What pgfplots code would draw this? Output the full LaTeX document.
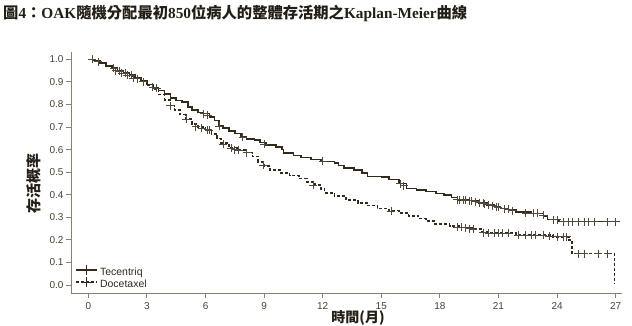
\documentclass[border=0pt]{standalone}
\usepackage{pgfplots}
\pgfplotsset{compat=1.18}
\usepackage{fontspec}
\setmainfont{Liberation Serif}
\setsansfont{Liberation Sans}
\newfontfamily\cjk{Noto Sans CJK TC}
\definecolor{curve}{RGB}{52,42,28}
\definecolor{axcol}{RGB}{140,128,110}
\definecolor{lblcol}{RGB}{72,64,52}
\definecolor{titlecol}{RGB}{35,30,22}

\pgfplotstableread{
x y
0 1.000
0.3 0.995
0.6 0.985
0.9 0.972
1.2 0.962
1.5 0.950
1.8 0.940
2.1 0.930
2.4 0.918
2.7 0.905
3.0 0.888
3.3 0.876
3.6 0.862
3.9 0.846
4.2 0.830
4.5 0.818
4.8 0.810
5.1 0.790
5.3 0.775
5.6 0.765
5.9 0.760
6.2 0.745
6.45 0.730
6.7 0.705
6.9 0.695
7.2 0.684
7.5 0.672
7.8 0.655
8.1 0.648
8.5 0.642
8.8 0.632
9.1 0.622
9.6 0.612
9.9 0.600
10.0 0.585
10.5 0.575
10.9 0.565
11.4 0.556
11.9 0.548
12.6 0.542
12.8 0.530
13.1 0.518
13.6 0.510
14.0 0.497
14.3 0.482
15.0 0.478
15.4 0.468
15.9 0.450
16.3 0.428
16.8 0.422
17.3 0.415
17.8 0.405
18.2 0.398
18.6 0.388
18.9 0.378
19.5 0.374
20.0 0.365
20.4 0.356
20.8 0.348
21.1 0.340
21.5 0.335
21.9 0.325
22.7 0.318
23.3 0.305
23.5 0.290
24.1 0.281
27.2 0.281
}\tec

\pgfplotstableread{
x y
0 1.000
0.3 0.995
0.6 0.985
0.9 0.972
1.2 0.962
1.5 0.950
1.8 0.940
2.1 0.925
2.4 0.915
2.7 0.905
3.0 0.885
3.3 0.870
3.6 0.845
3.9 0.820
4.2 0.795
4.4 0.775
4.7 0.755
5.0 0.735
5.3 0.715
5.6 0.700
6.0 0.688
6.3 0.670
6.6 0.650
6.8 0.630
7.2 0.610
7.6 0.598
8.1 0.587
8.4 0.570
8.7 0.545
9.0 0.528
9.3 0.510
9.8 0.497
10.3 0.485
10.8 0.473
11.2 0.458
11.6 0.443
11.9 0.425
12.1 0.408
12.6 0.395
13.2 0.378
13.8 0.365
14.3 0.352
14.8 0.340
15.4 0.330
15.9 0.320
16.4 0.306
16.9 0.295
17.3 0.285
17.7 0.272
18.5 0.263
19.0 0.256
19.7 0.248
20.1 0.238
20.4 0.230
21.9 0.222
23.8 0.214
24.6 0.200
24.75 0.140
26.95 0.140
26.95 0.008
}\doc

\pgfplotstableread{
x y
0.2 1.0
0.5 0.99
1.3 0.96
1.6 0.948
1.9 0.938
2.2 0.93
2.5 0.915
3.3 0.876
3.5 0.872
5.9 0.760
6.1 0.752
6.7 0.705
7.9 0.655
9.0 0.625
12.0 0.548
15.95 0.450
16.15 0.440
18.9 0.378
19.0 0.378
19.2 0.378
19.3 0.376
19.5 0.374
19.6 0.374
19.8 0.370
20.0 0.365
20.2 0.362
20.3 0.360
20.5 0.356
20.7 0.352
20.9 0.348
21.0 0.344
21.3 0.338
21.5 0.335
21.7 0.330
22.4 0.318
22.8 0.318
23.0 0.318
23.3 0.310
23.8 0.290
24.0 0.290
24.3 0.281
24.6 0.281
24.8 0.281
25.1 0.281
25.4 0.281
25.6 0.281
25.9 0.281
26.6 0.281
27.0 0.281
}\teccens

\pgfplotstableread{
x y
1.4 0.95
1.7 0.94
2.0 0.93
2.3 0.918
2.8 0.902
4.2 0.795
5.0 0.735
5.5 0.702
5.8 0.695
6.1 0.688
6.2 0.685
6.9 0.625
7.3 0.608
7.5 0.600
7.7 0.598
8.1 0.587
8.96 0.530
11.5 0.443
15.5 0.328
18.9 0.258
19.1 0.256
19.3 0.254
19.5 0.250
19.7 0.248
20.2 0.232
20.5 0.230
20.8 0.230
21.0 0.230
21.2 0.230
21.5 0.230
22.0 0.222
22.4 0.222
22.7 0.222
22.9 0.222
23.3 0.222
23.6 0.218
24.0 0.214
24.3 0.214
24.5 0.214
25.1 0.140
25.4 0.140
26.1 0.140
26.6 0.140
}\doccens

\begin{document}
\begin{tikzpicture}[x=1pt,y=1pt]
\begin{axis}[
  at={(71pt,-293pt)}, anchor=south west,
  scale only axis, width=550.7pt, height=241.3pt,
  xmin=-0.89, xmax=27.31, ymin=-0.035, ymax=1.034,
  axis lines*=left,
  axis line style={draw=axcol, line width=1pt},
  every tick/.style={draw=axcol, line width=1pt},
  tick align=outside, major tick length=5pt,
  xtick={0,3,...,27}, ytick={0,0.1,...,1.0},
  yticklabel style={/pgf/number format/fixed, /pgf/number format/fixed zerofill, /pgf/number format/precision=1, xshift=1pt},
  /pgf/number format/assume math mode=true,
  tick label style={font=\sffamily\fontsize{10}{10}\selectfont, text=lblcol},
  xticklabel style={yshift=-1pt},
  legend style={draw=none, fill=none, at={(0.006,0.005)}, anchor=south west,
    font=\sffamily\fontsize{10.5}{10.5}\selectfont, text=curve,
    row sep=-1.5pt, inner sep=1pt},
  legend cell align=left,
  legend image code/.code={\draw[#1] plot coordinates {(0pt,2pt) (10.5pt,2pt) (21pt,2pt)};},
  clip=false,
]
\addlegendimage{curve, line width=1.5pt, mark=+, mark repeat=2, mark phase=2, mark size=5pt, mark options={solid,line width=0.6pt}}
\addlegendentry{Tecentriq}
\addlegendimage{curve, line width=1.5pt, dash pattern=on 3pt off 2pt, mark=+, mark repeat=2, mark phase=2, mark size=5pt, mark options={solid,line width=0.6pt}}
\addlegendentry{Docetaxel}
\addplot[const plot, curve, line width=1.6pt, forget plot] table[x=x,y=y] {\tec};
\addplot[const plot, curve, line width=1.6pt, dash pattern=on 3pt off 2pt, forget plot] table[x=x,y=y] {\doc};
\addplot[only marks, mark=+, mark size=4pt, curve!85, mark options={line width=0.7pt}, forget plot] table[x=x,y=y] {\teccens};
\addplot[only marks, mark=+, mark size=4pt, curve!85, mark options={line width=0.7pt}, forget plot] table[x=x,y=y] {\doccens};
\end{axis}
\node[anchor=base west, inner sep=0, text=titlecol] at (3pt,-18pt) {\bfseries\fontsize{15.3}{15.3}\selectfont{\cjk\bfseries 圖}4{\cjk\bfseries ：}OAK{\cjk\bfseries 隨機分配最初}850{\cjk\bfseries 位病人的整體存活期之}Kaplan-Meier{\cjk\bfseries 曲線}};
\node[rotate=90, inner sep=0, text=titlecol] at (33.5pt,-183pt) {\cjk\bfseries\fontsize{15}{15}\selectfont 存活概率};
\node[anchor=north, inner sep=0, text=titlecol] at (358pt,-310.5pt) {\cjk\bfseries\fontsize{14}{14}\selectfont 時間(月)};
\pgfresetboundingbox
\path[use as bounding box] (0,0) rectangle (632pt,-325pt);
\end{tikzpicture}
\end{document}
